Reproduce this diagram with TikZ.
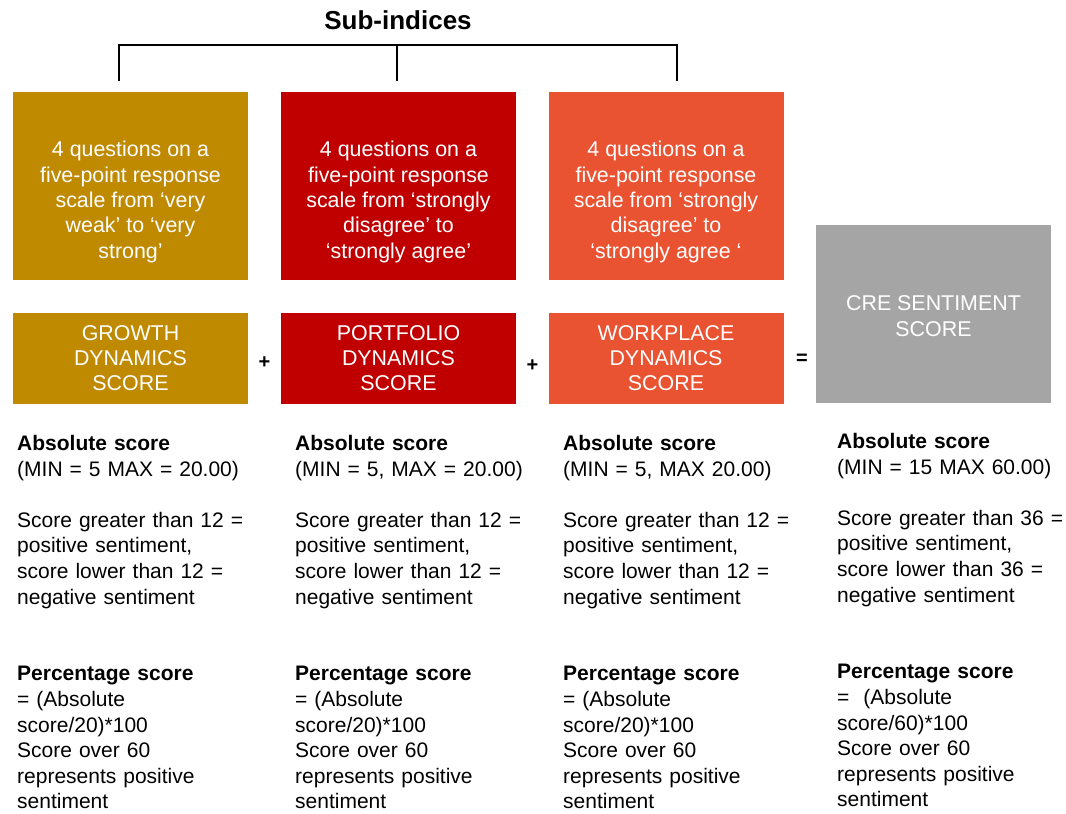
\documentclass[tikz,border=0pt]{standalone}
\usepackage{fontspec}
\setmainfont{Liberation Sans}
\definecolor{cgold}{RGB}{191,137,0}
\definecolor{cred}{RGB}{192,0,0}
\definecolor{corange}{RGB}{233,83,50}
\definecolor{cgray}{RGB}{165,165,165}
\begin{document}
\begin{tikzpicture}[x=1pt,y=-1pt,
  box/.style={draw=none, inner sep=0, minimum width=235pt},
  boxtext/.style={text=white, align=center, inner sep=0, font=\fontsize{21.4}{25.3}\selectfont},
  coltext/.style={anchor=base west, text width=250pt, align=left, inner sep=0, font=\fontsize{21}{25.6}\selectfont},
  op/.style={inner sep=0, font=\fontsize{20}{24}\selectfont\bfseries},
  bracket/.style={line width=2.2pt, line join=miter}]
\useasboundingbox[fill=white] (0,0) rectangle (1066,814);

% title and bracket
\node[inner sep=0, font=\fontsize{26}{30}\selectfont\bfseries] (title) at (398,20) {Sub-indices};
\coordinate (bL) at (119,81);
\coordinate (bM) at (397,81);
\coordinate (bR) at (677,81);
\coordinate (bTL) at (119,45);
\coordinate (bTR) at (677,45);
\draw[bracket] (bL) -- (bTL) -- (bTR) -- (bR);
\draw[bracket] (bM) -- (bM |- bTL);

% top question boxes
\node[box, fill=cgold, minimum height=188pt] (q1) at (130.5,186) {};
\node[box, fill=cred, minimum height=188pt] (q2) at (398.5,186) {};
\node[box, fill=corange, minimum height=188pt] (q3) at (666,186) {};
\node[boxtext] (q1t) at (130.5,202) {4 questions on a\\five-point response\\scale from ‘very\\weak’ to ‘very\\strong’};
\node[boxtext] (q2t) at (398.5,202) {4 questions on a\\five-point response\\scale from ‘strongly\\disagree’ to\\‘strongly agree’};
\node[boxtext] (q3t) at (666,202) {4 questions on a\\five-point response\\scale from ‘strongly\\disagree’ to\\‘strongly agree ‘};

% score boxes
\node[box, fill=cgold, minimum height=91pt, boxtext] (s1) at (130.5,358) {GROWTH\\DYNAMICS\\SCORE};
\node[box, fill=cred, minimum height=91pt, boxtext] (s2) at (398.5,358) {PORTFOLIO\\DYNAMICS\\SCORE};
\node[box, fill=corange, minimum height=91pt, boxtext] (s3) at (666,358) {WORKPLACE\\DYNAMICS\\SCORE};
\node[box, fill=cgray, minimum height=178pt, boxtext] (cre) at (933.5,314) {};
\node[boxtext] (cret) at (933.5,316) {CRE SENTIMENT\\SCORE};

% operators
\node[op] (plus1) at (264.5,362.5) {+};
\node[op] (plus2) at (532.5,365.5) {+};
\node[op] (eq) at (802,359) {=};

% explanatory text
\node[coltext] (c1) at (17,450.5) {\textbf{Absolute score}\\(MIN = 5 MAX = 20.00)\\[25.6pt]Score greater than 12 =\\positive sentiment,\\score lower than 12 =\\negative sentiment\\[51.2pt]\textbf{Percentage score}\\= (Absolute\\score/20)*100\\Score over 60\\represents positive\\sentiment};
\node[coltext] (c2) at (295,450.5) {\textbf{Absolute score}\\(MIN = 5, MAX = 20.00)\\[25.6pt]Score greater than 12 =\\positive sentiment,\\score lower than 12 =\\negative sentiment\\[51.2pt]\textbf{Percentage score}\\= (Absolute\\score/20)*100\\Score over 60\\represents positive\\sentiment};
\node[coltext] (c3) at (563,450.5) {\textbf{Absolute score}\\(MIN = 5, MAX 20.00)\\[25.6pt]Score greater than 12 =\\positive sentiment,\\score lower than 12 =\\negative sentiment\\[51.2pt]\textbf{Percentage score}\\= (Absolute\\score/20)*100\\Score over 60\\represents positive\\sentiment};
\node[coltext] (c4) at (837,448.5) {\textbf{Absolute score}\\(MIN = 15 MAX 60.00)\\[25.6pt]Score greater than 36 =\\positive sentiment,\\score lower than 36 =\\negative sentiment\\[51.2pt]\textbf{Percentage score}\\=\ \ (Absolute\\score/60)*100\\Score over 60\\represents positive\\sentiment};
\end{tikzpicture}
\end{document}
